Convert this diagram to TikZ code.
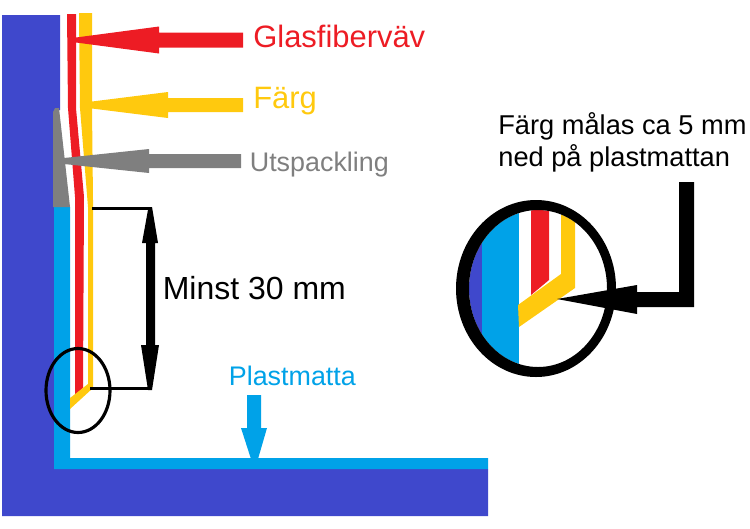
\documentclass[tikz,border=0pt]{standalone}
\usepackage{fontspec}
\setmainfont{Liberation Sans}
\definecolor{wallblue}{HTML}{3F48CC}
\definecolor{matblue}{HTML}{00A2E8}
\definecolor{fibrered}{HTML}{ED1C24}
\definecolor{paintyellow}{HTML}{FFC90E}
\definecolor{fillgrey}{HTML}{7F7F7F}
\tikzset{
    bigtext/.style={anchor=base west, inner sep=0pt, font=\fontsize{17.6}{20}\selectfont},
    smalltext/.style={anchor=base west, inner sep=0pt, font=\fontsize{15.3}{18}\selectfont},
    notetext/.style={anchor=base west, inner sep=0pt, font=\fontsize{15.5}{18}\selectfont},
    measuretext/.style={anchor=base west, inner sep=0pt, font=\fontsize{18.2}{20}\selectfont},
}
\begin{document}
\begin{tikzpicture}[x=0.02cm, y=-0.02cm]
    \useasboundingbox (0,0) rectangle (750,528);

    % Wall and floor
    \fill[wallblue] (2,15) -- (60,15) -- (60,110) -- (54,110) -- (54,469) -- (488,469) -- (488,516) -- (2,516) -- cycle;

    % Plastic mat
    \fill[matblue] (54,207) -- (70,207) -- (70,458) -- (488,458) -- (488,469) -- (54,469) -- cycle;

    % Filler
    \fill[fillgrey] (53,112) -- (55,108) -- (59,108) -- (70,207) -- (53,207) -- cycle;

    % Glass fibre fabric and paint
    \fill[fibrered] (67,14) -- (76,14) -- (76,108) -- (84,197) -- (83,388) -- (75,395) -- (75,197) -- (68,108) -- cycle;
    \fill[paintyellow] (79,13) -- (92,13) -- (92,108) -- (93,200) -- (93,388) -- (70,409) -- (70,398) -- (88,384) -- (88,207) -- (80,108) -- cycle;

    % Pointing arrows, tip x / tip y / head base / shaft end / half shaft / half head / half tip
    \foreach \tipx/\tipy/\basex/\endx/\halfs/\halfh/\halft/\arrowcol in {76/40/159/243/7.5/13.5/2.5/fibrered, 80/105/168/243/7/13/2/paintyellow, 64/161/149/241/7/12/3/fillgrey} {
        \fill[\arrowcol] (\tipx,\tipy-\halft) -- (\basex,\tipy-\halfh) -- (\basex,\tipy-\halfs) -- (\endx,\tipy-\halfs) -- (\endx,\tipy+\halfs) -- (\basex,\tipy+\halfs) -- (\basex,\tipy+\halfh) -- (\tipx,\tipy+\halft) -- cycle;
    }

    % Plastmatta arrow
    \fill[matblue] (251,459) -- (241,428) -- (247,428) -- (247,395) -- (261,395) -- (261,428) -- (267,428) -- (258,459) -- cycle;

    % Measure
    \draw[black, line width=1.7pt] (92,208) -- (150,208);
    \draw[black, line width=1.7pt] (90,388) -- (150,388);
    \fill[black] (148.5,207) -- (152,207) -- (158,243) -- (155,243) -- (155,345) -- (159,345) -- (152,390) -- (148,390) -- (141,345) -- (146,345) -- (146,243) -- (142,243) -- cycle;

    % Small circle
    \draw[black, line width=1.8pt] (78,390.5) ellipse (32 and 42);

    % Big circle contents
    \begin{scope}
        \clip (538,288.5) ellipse (69 and 78.5);
        \fill[wallblue] (465,205) rectangle (482,372);
        \fill[matblue] (482,205) rectangle (519,372);
        \fill[fibrered] (531,205) -- (549,205) -- (549,280) -- (531,295) -- cycle;
        \fill[paintyellow] (561,205) -- (575,205) -- (575,288) -- (519,327) -- (518,305) -- (561,274) -- cycle;
    \end{scope}

    % Big circle ring
    \fill[black, even odd rule] (536,288.5) ellipse (80 and 88.5) (538,288.5) ellipse (69 and 78.5);

    % Arrow to big circle
    \fill[black] (557,299) -- (637,285) -- (637,292) -- (679,292) -- (679,182) -- (694,182) -- (694,307) -- (637,307) -- (637,314) -- cycle;

    % Labels
    \node[bigtext, text=fibrered] (glasfiber) at (253,47) {Glasfiberväv};
    \node[bigtext, text=paintyellow] (farg) at (253,108) {Färg};
    \node[smalltext, text=fillgrey] (utspackling) at (249.5,171) {Utspackling};
    \node[measuretext, text=black] (minst) at (162.5,299) {Minst 30 mm};
    \node[smalltext, text=matblue] (plastmatta) at (228.5,385) {Plastmatta};
    \node[notetext, text=black] (malas) at (498,134) {Färg målas ca 5 mm};
    \node[notetext, text=black] (ned) at (498,166) {ned på plastmattan};
\end{tikzpicture}
\end{document}
